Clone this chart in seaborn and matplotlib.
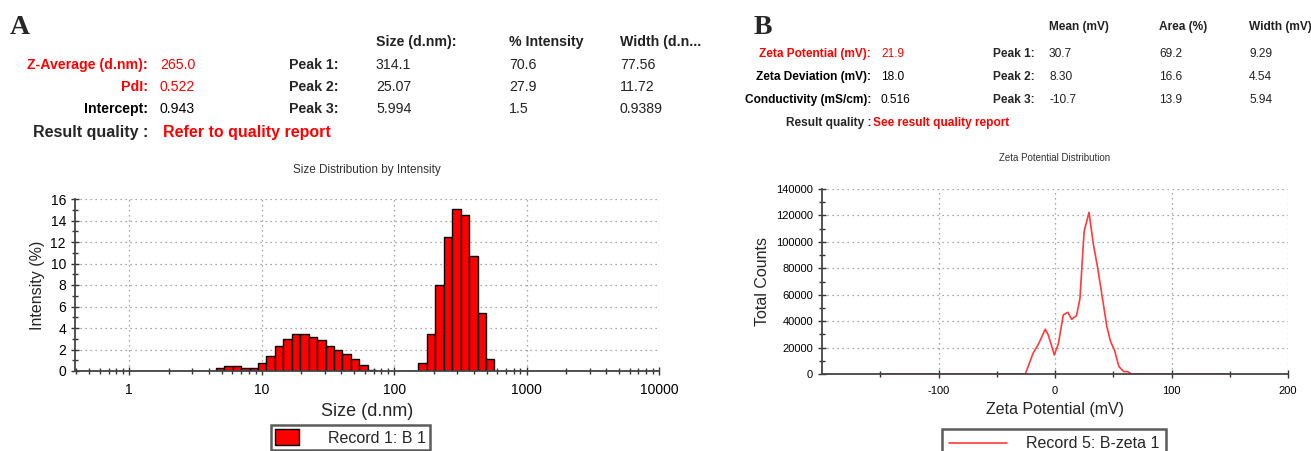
import numpy as np
import pandas as pd
import matplotlib
matplotlib.use("Agg")
import matplotlib.pyplot as plt
import seaborn as sns
from matplotlib.ticker import FixedLocator, FixedFormatter, MultipleLocator, LogLocator, NullFormatter
from matplotlib.patches import Patch
from matplotlib.lines import Line2D

# ---- size distribution (panel A) ----
size_nm = [4.849, 5.615, 6.503, 7.531, 8.721, 10.1, 11.7, 13.54, 15.69, 18.17,
           21.04, 24.36, 28.21, 32.67, 37.84, 43.82, 50.75, 58.77, 68.06,
           164.2, 190.1, 220.2, 255.0, 295.3, 342.0, 396.1, 458.7, 531.2]
intensity_pct = [0.3, 0.5, 0.5, 0.3, 0.3, 0.7, 1.4, 2.3, 3.0, 3.45,
                 3.45, 3.2, 2.85, 2.3, 2.0, 1.55, 1.1, 0.6, 0.1,
                 0.7, 3.45, 8.0, 12.5, 15.1, 14.5, 10.7, 5.35, 1.1]

# ---- zeta potential distribution (panel B) ----
zeta_mv = [-150, -25.5, -18.8, -14, -8.4, -5.8, -0.6, 2.9, 7.1, 11, 14.3, 18.5,
           21.4, 25, 29.2, 33, 36.4, 39.6, 44.5, 47.7, 51, 54.9, 59, 62.3, 65.6, 150]
total_counts = [0, 0, 15700, 23000, 33900, 29600, 14400, 23000, 44700, 46700, 41400, 44200,
                57000, 108000, 122300, 97800, 81400, 63700, 35900, 24500, 18200, 5600, 1800, 1800, 0, 0]

# header tables
a_left_labels = ["Z-Average (d.nm):", "PdI:", "Intercept:"]
a_left_values = ["265.0", "0.522", "0.943"]
a_cols = ["Size (d.nm):", "% Intensity", "Width (d.n..."]
a_peaks = [["314.1", "70.6", "77.56"], ["25.07", "27.9", "11.72"], ["5.994", "1.5", "0.9389"]]

b_left_labels = ["Zeta Potential (mV):", "Zeta Deviation (mV):", "Conductivity (mS/cm):"]
b_left_values = ["21.9", "18.0", "0.516"]
b_cols = ["Mean (mV)", "Area (%)", "Width (mV)"]
b_peaks = [["30.7", "69.2", "9.29"], ["8.30", "16.6", "4.54"], ["-10.7", "13.9", "5.94"]]

W, H = 1311, 451
RED = "#ff0000"

sns.set_theme(style="white")
plt.rcParams['font.family'] = ['Liberation Sans', 'DejaVu Sans']
plt.rcParams['axes.unicode_minus'] = False

fig = plt.figure(figsize=(W / 100, H / 100), dpi=100)


def px(x, y):
    return x / W, 1 - y / H


def txt(x, y, s, **kw):
    kw.setdefault("va", "center")
    fig.text(*px(x, y), s, **kw)


# ---------- header text A ----------
fa = 10.2
txt(10, 28, "A", fontsize=20, fontweight="bold", family="Liberation Serif")
for x, s in zip([376, 509, 620], a_cols):
    txt(x, 42, s, fontsize=fa, fontweight="bold", color="#222")
for i, (lab, val) in enumerate(zip(a_left_labels, a_left_values)):
    y = 65 + i * 22
    c = RED if i < 2 else "black"
    txt(148, y, lab, fontsize=fa, fontweight="bold", color=c, ha="right")
    txt(160, y, val, fontsize=fa, color=c)
    txt(289, y, f"Peak {i + 1}:", fontsize=fa, fontweight="bold")
    for x, v in zip([376, 509, 620], a_peaks[i]):
        txt(x, y, v, fontsize=fa, color="#222")
txt(148, 132, "Result quality :", fontsize=11.5, fontweight="bold", ha="right")
txt(163, 132, "Refer to quality report", fontsize=11.5, fontweight="bold", color=RED)

# ---------- header text B ----------
fb = 8.6
txt(754, 27, "B", fontsize=20, fontweight="bold", family="Liberation Serif")
for x, s in zip([1049, 1159, 1249], b_cols):
    txt(x, 27, s, fontsize=fb, fontweight="bold", color="#222")
for i, (lab, val) in enumerate(zip(b_left_labels, b_left_values)):
    y = 54 + i * 23
    c = RED if i == 0 else "black"
    txt(871, y, lab, fontsize=fb, fontweight="bold", color=c, ha="right")
    txt(881, y, val, fontsize=fb, color=c)
    txt(993, y, f"Peak {i + 1}:", fontsize=fb, fontweight="bold")
    for x, v in zip([1049, 1159, 1249], b_peaks[i]):
        txt(x, y, v, fontsize=fb, color="#222")
txt(871, 123, "Result quality :", fontsize=fb, fontweight="bold", ha="right")
txt(873, 123, "See result quality report", fontsize=fb, fontweight="bold", color=RED)

# ---------- panel A plot ----------
axA = fig.add_axes([75 / W, 1 - 371 / H, (659 - 75) / W, (371 - 199) / H])
step = np.log10(1.1581)
edges = list(np.arange(np.log10(0.4) - step / 2, np.log10(10000) + step, step))
dfA = pd.DataFrame({"size": size_nm, "intensity": intensity_pct})
sns.histplot(data=dfA, x="size", weights="intensity", bins=edges, log_scale=True,
             color=RED, edgecolor="black", linewidth=1.0, alpha=1, ax=axA)
axA.set_xlim(0.39, 10000)
axA.set_ylim(0, 16)
axA.xaxis.set_major_locator(FixedLocator([1, 10, 100, 1000, 10000]))
axA.xaxis.set_major_formatter(FixedFormatter(["1", "10", "100", "1000", "10000"]))
axA.xaxis.set_minor_locator(LogLocator(base=10, subs=np.arange(2, 10)))
axA.xaxis.set_minor_formatter(NullFormatter())
axA.yaxis.set_major_locator(MultipleLocator(2))
axA.yaxis.set_minor_locator(MultipleLocator(1))
axA.set_xlabel("Size (d.nm)", fontsize=13, labelpad=4)
axA.set_ylabel("Intensity (%)", fontsize=11.5, labelpad=4)
axA.set_title("Size Distribution by Intensity", fontsize=8.5, pad=19, color="#333")

# ---------- panel B plot ----------
axB = fig.add_axes([822 / W, 1 - 374 / H, (1288 - 822) / W, (374 - 189) / H])
dfB = pd.DataFrame({"zeta": zeta_mv, "counts": total_counts})
sns.lineplot(data=dfB, x="zeta", y="counts", estimator=None, sort=False,
             color="#ff3b3b", linewidth=1.2, ax=axB)
axB.set_xlim(-200, 200)
axB.set_ylim(0, 140000)
axB.xaxis.set_major_locator(FixedLocator([-100, 0, 100, 200]))
axB.xaxis.set_minor_locator(FixedLocator([-150, -50, 50, 150]))
axB.yaxis.set_major_locator(MultipleLocator(20000))
axB.yaxis.set_minor_locator(MultipleLocator(10000))
axB.set_xlabel("Zeta Potential (mV)", fontsize=11.5, labelpad=4)
axB.set_ylabel("Total Counts", fontsize=11.5, labelpad=4)
axB.set_title("Zeta Potential Distribution", fontsize=7, pad=20, color="#333")

for ax, fs in [(axA, 10), (axB, 8)]:
    ax.set_axisbelow(True)
    ax.grid(True, which="major", linestyle=(0, (1, 3)), color="#8c8c8c", linewidth=0.9)
    for side in ["top", "right"]:
        ax.spines[side].set_visible(False)
    for side in ["left", "bottom"]:
        ax.spines[side].set_color("#444")
        ax.spines[side].set_linewidth(1.3)
    ax.tick_params(which="both", bottom=True, left=True, top=False, right=False)
    ax.tick_params(which="major", direction="inout", length=6, width=1, colors="#333",
                   labelsize=fs, labelcolor="black")
    ax.tick_params(which="minor", direction="inout", length=5, width=1, colors="#333")
    ax.tick_params(axis="x", pad=6)

# ---------- legends ----------
legA = fig.legend(handles=[Patch(facecolor=RED, edgecolor="black", linewidth=1)],
                  labels=["Record 1: B 1"], loc="upper left",
                  bbox_to_anchor=px(271, 425), fontsize=11.5, frameon=True,
                  fancybox=False, edgecolor="#333", handlelength=1.5, handleheight=1.2,
                  handletextpad=1.8, borderpad=0.25, borderaxespad=0)
legA.get_frame().set_linewidth(1.8)
legB = fig.legend(handles=[Line2D([], [], color="#ff3b3b", linewidth=1.2)],
                  labels=["Record 5: B-zeta 1"], loc="upper left",
                  bbox_to_anchor=px(942, 429), fontsize=11.5, frameon=True,
                  fancybox=False, edgecolor="#333", handlelength=3.6,
                  handletextpad=1.2, borderpad=0.45, borderaxespad=0)
legB.get_frame().set_linewidth(1.8)

fig.savefig("out.png", dpi=100)
